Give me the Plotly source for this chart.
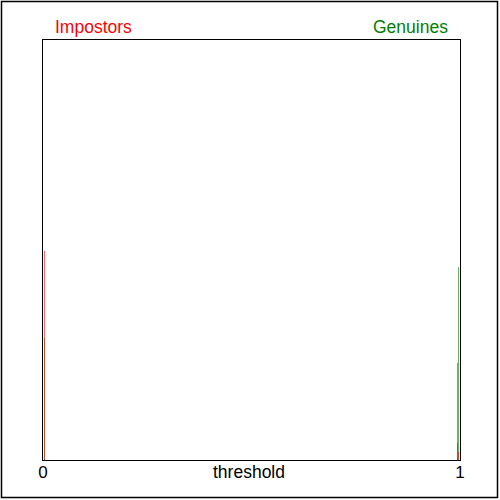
import plotly.graph_objects as go

# Histogram bins (threshold) and heights (arbitrary density units)
genuine_x = [0.0034, 0.9940, 0.9964]
genuine_y = [29.0, 23.0, 46.0]
impostor_x = [0.0034, 0.9940, 0.9964]
impostor_y = [49.8, 4.0, 1.9]
bin_width = 0.0032

x_tick_vals = [0, 1]
x_tick_text = ["0", "1"]

fig = go.Figure()
fig.add_trace(go.Bar(x=genuine_x, y=genuine_y, width=bin_width,
                     marker=dict(color="rgba(0,128,0,0.6)", line=dict(width=0)),
                     name="Genuines", showlegend=False))
fig.add_trace(go.Bar(x=impostor_x, y=impostor_y, width=bin_width,
                     marker=dict(color="rgba(255,0,0,0.6)", line=dict(width=0)),
                     name="Impostors", showlegend=False))

fig.update_layout(
    width=500, height=500,
    margin=dict(l=43, r=40, t=40, b=40),
    paper_bgcolor="white", plot_bgcolor="white",
    barmode="overlay", bargap=0,
    font=dict(family="Liberation Sans, Arial, sans-serif", size=17, color="black"),
    xaxis=dict(range=[0, 1], tickvals=x_tick_vals, ticktext=x_tick_text,
               showgrid=False, zeroline=False, showline=True, linecolor="black",
               linewidth=1, mirror=True, ticks="", ticklen=0, ticklabelstandoff=-3),
    yaxis=dict(range=[0, 100], showticklabels=False, showgrid=False, zeroline=False,
               showline=True, linecolor="black", linewidth=1, mirror=True, ticks=""),
    annotations=[
        dict(text="Impostors", x=(53 - 43) / 417, y=(460 - 27) / 420, xref="paper", yref="paper",
             xanchor="left", yanchor="middle", showarrow=False, font=dict(color="#ff0000", size=17.5)),
        dict(text="Genuines", x=(450 - 43) / 417, y=(460 - 27) / 420, xref="paper", yref="paper",
             xanchor="right", yanchor="middle", showarrow=False, font=dict(color="#008000", size=17.5)),
        dict(text="threshold", x=(248.5 - 43) / 417, y=(460 - 472) / 420, xref="paper", yref="paper",
             xanchor="center", yanchor="middle", showarrow=False, font=dict(color="black", size=17.5)),
    ],
    shapes=[
        dict(type="rect", xref="paper", yref="paper",
             x0=(1.5 - 43) / 417, x1=(497.5 - 43) / 417,
             y0=(460 - 497.5) / 420, y1=(460 - 1.5) / 420,
             line=dict(color="black", width=1.5), layer="below"),
    ],
)

fig.write_html("out.html", config={"displayModeBar": False},
               post_script="document.body.style.margin='0';")
